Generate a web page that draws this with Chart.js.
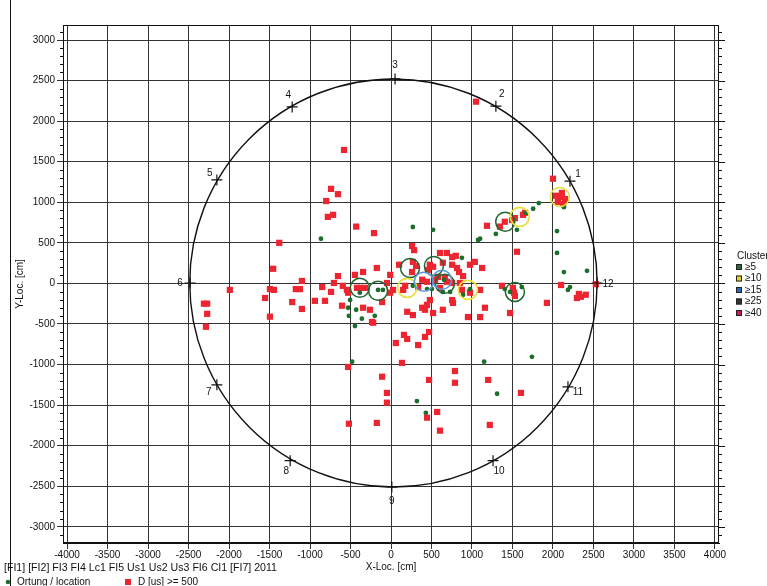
<!DOCTYPE html>
<html>
<head>
<meta charset="utf-8">
<script src="https://cdn.jsdelivr.net/npm/chart.js@4.4.1/dist/chart.umd.min.js"></script>
<style>
  html, body { margin: 0; padding: 0; background: #fff; overflow: hidden; }
</style>
</head>
<body>
<canvas id="grafico" width="767" height="586"></canvas>
<script>
// tick labels
const xTicks = [-4000, -3500, -3000, -2500, -2000, -1500, -1000, -500, 0, 500, 1000, 1500, 2000, 2500, 3000, 3500, 4000];
const yTicks = [-3000, -2500, -2000, -1500, -1000, -500, 0, 500, 1000, 1500, 2000, 2500, 3000];

// D [us] >= 500 (x, y in cm)
const redPoints = [
  [1050, 2240], [-580, 1645], [-740, 1165], [-655, 1100], [-800, 1015], [-780, 820], [-715, 845], [-430, 700], [-210, 620],
  [-1380, 500], [1185, 710], [260, 460], [285, 410], [605, 375], [690, 375], [755, 325], [800, 340],
  [2000, 1290], [2110, 1115], [2060, 1005], [2150, 1040], [2085, 1065], [2035, 1080], [2125, 980],
  [1345, 700], [1405, 760], [1530, 805], [1630, 845], [1655, 870], [1495, 780], [1555, 390],
  [2100, -20], [2320, -130], [2345, -165], [2295, -180], [2405, -140], [1925, -240], [1470, -365], [2530, -10],
  [1370, -30], [1505, -55], [1520, -115], [1530, -155],
  [100, 230], [270, 265], [310, 215], [480, 230], [520, 205], [455, 165], [640, 255], [755, 230], [815, 190],
  [840, 140], [890, 90], [975, 230], [1035, 265], [1125, 190], [260, 140], [-10, 105], [-50, 5], [385, 45],
  [445, 20], [545, 45], [580, 80], [665, 70], [690, 20], [755, 5], [850, 5], [-110, -230], [-10, -115],
  [25, -80], [150, -80], [480, -205], [385, -300], [420, -325], [445, -265], [520, -365], [640, -325],
  [755, -205], [765, -240], [875, -80], [975, -115], [1100, -80], [950, -415], [1100, -415], [1160, -300],
  [200, -350], [270, -390], [335, -45], [175, -30], [605, -55],
  [-1100, 30], [-1175, -70], [-1125, -70], [-1220, -230], [-1100, -315], [-940, -215], [-815, -215], [-850, -45],
  [-740, -105], [-705, 5], [-655, 90], [-595, -30], [-545, -80], [-530, -115], [-605, -275], [-445, 105],
  [-345, 140], [-175, 190], [-420, -55], [-385, -55], [-320, -55], [-345, -300], [-260, -325], [-235, -475],
  [-530, -1030], [-110, -1150],
  [-1455, 180], [-1990, -80], [-1495, -70], [-1445, -80], [-1555, -180], [-2310, -250], [-2270, -250],
  [-2270, -375], [-2285, -535], [-1495, -410], [-220, -485],
  [160, -635], [200, -685], [60, -735], [335, -760], [420, -660], [470, -600], [135, -980], [-50, -1350],
  [-50, -1470], [-175, -1720], [470, -1190], [570, -1585], [445, -1655], [605, -1815], [790, -1080],
  [790, -1225], [1200, -1190], [1605, -1350], [1220, -1745], [-520, -1730]
];

// Ortung / location
const greenPoints = [
  [-865, 550], [270, 695], [520, 660], [1075, 535], [1100, 550], [1295, 610], [1555, 660], [1665, 870],
  [1755, 920], [1825, 990], [2135, 940], [2050, 645], [2050, 375], [2135, 140], [2420, 155], [2210, -45],
  [2185, -80], [1615, -45], [1405, -70], [875, 315], [-100, -80], [505, -70], [640, -105], [730, -105],
  [975, -70], [890, -140], [-505, -205], [-530, -300], [-430, -325], [-520, -400], [-360, -435], [-200, -400],
  [-445, -525], [-385, -115], [-160, -80], [-480, -965], [320, -1450], [430, -1595], [1150, -965],
  [1310, -1360], [1740, -905], [270, -30], [1470, -105], [655, 45], [445, -70]
];

// cluster centres
const cluster5 = [[1410, 760], [-385, -55], [-160, -90], [235, 190], [530, 215], [665, -5], [1530, -105]];
const cluster10 = [[200, -55], [950, -80], [2085, 1065], [1590, 820]];
const cluster15 = [[405, 20], [630, 45]];

// sensors
const sensorLabels = ['1', '2', '3', '4', '5', '6', '7', '8', '9', '10', '11', '12'];
const sensorX = [2210, 1295, 50, -1220, -2150, -2480, -2150, -1245, 10, 1260, 2185, 2545];
const sensorY = [1260, 2185, 2520, 2175, 1275, 5, -1250, -2185, -2510, -2185, -1275, 5];

// specimen outline
const ringCenter = [30, 5];
const ringRadius = 2515;

const clusterLegend = ['\u22655', '\u226510', '\u226515', '\u226525', '\u226540'];
const clusterColors = ['#2d6b3c', '#e6d22a', '#2a68c0', '#333333', '#c81a4c'];

const fonte = '"Liberation Sans", Arial, sans-serif';
const labelOffsets = [[8, -7], [6, -12], [0, -14], [-4, -12], [-7, -7], [-10, 0], [-8, 7], [-4, 11], [0, 14], [6, 11], [10, 5], [11, 1]];

const toXY = arr => arr.map(p => ({ x: p[0], y: p[1] }));

const plugExtras = {
  id: 'extras',
  beforeDatasetsDraw(chart) {
    const { ctx, scales: { x, y } } = chart;
    const cx = x.getPixelForValue(ringCenter[0]);
    const cy = y.getPixelForValue(ringCenter[1]);
    const rx = x.getPixelForValue(ringCenter[0] + ringRadius) - cx;
    const ry = cy - y.getPixelForValue(ringCenter[1] + ringRadius);
    ctx.save();
    ctx.strokeStyle = '#111';
    ctx.lineWidth = 1.4;
    ctx.beginPath();
    ctx.ellipse(cx, cy, rx, ry, 0, 0, Math.PI * 2);
    ctx.stroke();
    ctx.restore();
  },
  afterDatasetsDraw(chart) {
    const { ctx, scales: { x, y } } = chart;
    ctx.save();
    ctx.fillStyle = '#111';
    ctx.font = '10px ' + fonte;
    ctx.textAlign = 'center';
    ctx.textBaseline = 'middle';
    sensorLabels.forEach((t, i) => {
      const px = x.getPixelForValue(sensorX[i]) + labelOffsets[i][0];
      const py = y.getPixelForValue(sensorY[i]) + labelOffsets[i][1];
      ctx.fillText(t, px, py);
    });
    ctx.restore();
  },
  afterDraw(chart) {
    const { ctx, chartArea: a, scales: { y } } = chart;
    ctx.save();
    // frame
    ctx.strokeStyle = '#111';
    ctx.lineWidth = 1;
    ctx.strokeRect(a.left + 0.5, a.top + 0.5, a.right - a.left - 1, a.bottom - a.top - 1);
    ctx.beginPath();
    ctx.moveTo(10.5, 0);
    ctx.lineTo(10.5, 586);
    ctx.stroke();
    // minor ticks on y
    ctx.beginPath();
    for (let v = -3100; v <= 3100; v += 100) {
      if (v % 500 === 0) continue;
      const py = Math.round(y.getPixelForValue(v)) + 0.5;
      ctx.moveTo(a.left - 3, py); ctx.lineTo(a.left, py);
      ctx.moveTo(a.right, py); ctx.lineTo(a.right + 3, py);
    }
    for (const v of yTicks) {
      const py = Math.round(y.getPixelForValue(v)) + 0.5;
      ctx.moveTo(a.right, py); ctx.lineTo(a.right + 6, py);
    }
    ctx.stroke();

    // bottom texts
    ctx.fillStyle = '#111';
    ctx.font = '10.6px ' + fonte;
    ctx.textBaseline = 'middle';
    ctx.textAlign = 'left';
    ctx.fillText('[FI1] [FI2] FI3 FI4 Lc1 FI5 Us1 Us2 Us3 FI6 CI1 [FI7] 2011', 4, 568);
    ctx.font = '10px ' + fonte;
    ctx.fillText('Ortung / location', 17, 582);
    ctx.fillText('D [us] >= 500', 138, 582);
    ctx.fillStyle = '#1b6e2b';
    ctx.beginPath(); ctx.arc(8, 582, 2.3, 0, Math.PI * 2); ctx.fill();
    ctx.fillStyle = '#ee2530';
    ctx.fillRect(125, 579, 6, 6);

    // cluster legend
    ctx.fillStyle = '#111';
    ctx.fillText('Cluster', 737, 256);
    clusterLegend.forEach((t, i) => {
      const py = 267 + i * 11.5;
      ctx.fillStyle = clusterColors[i];
      ctx.fillRect(736, py - 3, 6, 6);
      ctx.strokeStyle = '#222';
      ctx.strokeRect(736.5, py - 2.5, 5, 5);
      ctx.fillStyle = '#111';
      ctx.fillText(t, 745, py);
    });
    ctx.restore();
  }
};

new Chart(document.getElementById('grafico'), {
  type: 'scatter',
  data: {
    datasets: [
      { label: '\u226515', data: toXY(cluster15), pointStyle: 'circle', pointRadius: 9.5, backgroundColor: 'rgba(0,0,0,0)', borderColor: '#5b9ad8', borderWidth: 1.5 },
      { label: '\u226510', data: toXY(cluster10), pointStyle: 'circle', pointRadius: 9.5, backgroundColor: 'rgba(0,0,0,0)', borderColor: '#e4e03c', borderWidth: 1.6 },
      { label: '\u22655', data: toXY(cluster5), pointStyle: 'circle', pointRadius: 9.5, backgroundColor: 'rgba(0,0,0,0)', borderColor: '#1f6630', borderWidth: 1.5 },
      { label: 'Sensoren', data: sensorX.map((v, i) => ({ x: v, y: sensorY[i] })), pointStyle: 'cross', pointRadius: 5.5, borderColor: '#111', borderWidth: 1.2 },
      { label: 'Ortung / location', data: toXY(greenPoints), pointStyle: 'circle', pointRadius: 2.4, backgroundColor: '#1b6e2b', borderColor: '#1b6e2b', borderWidth: 0 },
      { label: 'D [us] >= 500', data: toXY(redPoints), pointStyle: 'rect', pointRadius: 4.4, backgroundColor: '#ee2530', borderColor: '#ee2530', borderWidth: 0 }
    ]
  },
  options: {
    responsive: false,
    animation: false,
    devicePixelRatio: 1,
    layout: { padding: { top: 25, right: 48, left: 0, bottom: 0 } },
    plugins: { legend: { display: false }, tooltip: { enabled: false } },
    scales: {
      x: {
        type: 'linear', min: -4050, max: 4050,
        afterBuildTicks: s => { s.ticks = xTicks.map(v => ({ value: v })); },
        afterFit: s => { s.height = 43; },
        ticks: { callback: v => String(v), color: '#111', font: { family: fonte, size: 10 }, padding: 0, maxRotation: 0, autoSkip: false },
        grid: { color: '#333', lineWidth: 1, tickLength: 6, drawTicks: true },
        border: { color: '#111' },
        title: { display: true, text: 'X-Loc. [cm]', color: '#111', font: { family: fonte, size: 10 }, padding: { top: 0, bottom: 13 } }
      },
      y: {
        type: 'linear', min: -3200, max: 3185,
        afterBuildTicks: s => { s.ticks = yTicks.map(v => ({ value: v })); },
        afterFit: s => { s.width = 63; },
        ticks: { callback: v => String(v), color: '#111', font: { family: fonte, size: 10 }, padding: 2, autoSkip: false },
        grid: { color: '#333', lineWidth: 1, tickLength: 6, drawTicks: true },
        border: { color: '#111' },
        title: { display: true, text: 'Y-Loc. [cm]', color: '#111', font: { family: fonte, size: 10 }, padding: { top: 14, bottom: 0 } }
      }
    }
  },
  plugins: [plugExtras]
});
</script>
</body>
</html>
